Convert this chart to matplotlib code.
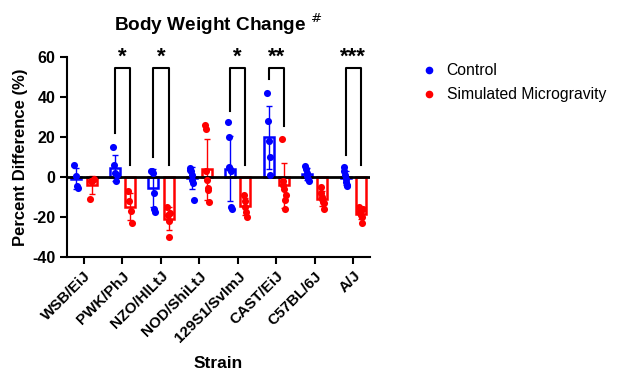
import numpy as np
import matplotlib
matplotlib.use("Agg")
import matplotlib.pyplot as plt
from matplotlib.lines import Line2D

plt.rcParams["font.family"] = ["Liberation Sans", "DejaVu Sans"]
plt.rcParams["axes.unicode_minus"] = False

strains = ["WSB/EiJ", "PWK/PhJ", "NZO/HlLtJ", "NOD/ShiLtJ", "129S1/SvImJ", "CAST/EiJ", "C57BL/6J", "A/J"]

control = [
    [6, 0.5, -4.5, -5.5],
    [15, 6, 2, -2, 1],
    [3, 3, 2, -8, -16, -17.5],
    [4.5, 3.5, 3, 1, -1.5, -3, -11.5],
    [27.5, 20, 5, 4, 3, -15, -16],
    [42, 28, 18, 10, 1],
    [5.5, 4, 2, 0.5, -1, -2],
    [5, 3, 1, -1, -2.5, -4.5, -4],
]
microgravity = [
    [-11, -2, -2, -1],
    [-7, -12, -17, -23],
    [-15, -19, -22, -30, -18],
    [26, 24, 3, -1.5, -5.5, -6.5, -12.5],
    [-9, -12, -15, -17.5, -20],
    [19, -2, -4, -6, -11.5, -16, -9],
    [-5, -8, -10, -11, -12.5, -13, -16],
    [-15, -17, -18, -19, -20, -23, -16],
]
sig_labels = ["", "*", "*", "", "*", "**", "", "***"]
bracket_left = [None, 22, 10, None, 33, 49, None, 11]
bracket_right = [None, 6, 6, None, 6, 25.5, None, 6]
bracket_top = 54.5

BLUE = "#0000ff"
RED = "#ff0000"

fig = plt.figure(figsize=(6.2, 3.72), dpi=100)
ax = fig.add_axes([0.108, 0.309, 0.489, 0.538])

off = 0.2
w = 0.26
x = np.arange(len(strains))

for i in range(len(strains)):
    for vals, dx, col in ((control[i], -off, BLUE), (microgravity[i], off, RED)):
        v = np.array(vals, dtype=float)
        m = v.mean()
        sd = v.std(ddof=1)
        xc = x[i] + dx
        ax.bar(xc, m, width=w, facecolor="white", edgecolor=col, linewidth=1.8, zorder=2)
        ax.errorbar(xc, m, yerr=sd, color=col, capsize=2.5, elinewidth=1, capthick=1, zorder=3)
        n = len(v)
        jit = np.linspace(-0.05, 0.05, n) if n > 1 else np.zeros(1)
        ax.scatter(xc + jit, v, s=26, color=col, zorder=4, linewidths=0)
    if sig_labels[i]:
        xl = x[i] - off
        xr = x[i] + off
        ax.plot([xl, xl, xr, xr], [bracket_left[i], bracket_top, bracket_top, bracket_right[i]],
                color="black", lw=1.5, zorder=5, clip_on=False)
        ax.text(x[i], bracket_top + 0.3, sig_labels[i], ha="center", va="bottom",
                fontsize=16, fontweight="bold", clip_on=False)

ax.axhline(0, color="black", lw=2, zorder=3)
ax.set_xlim(-0.44, len(strains) - 1 + 0.44)
ax.set_ylim(-40, 60)
ax.set_yticks([-40, -20, 0, 20, 40, 60])
ax.set_xticks(x)
ax.set_xticklabels(strains, rotation=45, ha="right", rotation_mode="anchor",
                   fontsize=11, fontweight="bold")
for lab in ax.get_yticklabels():
    lab.set_fontweight("bold")
    lab.set_fontsize(11.5)
ax.spines["top"].set_visible(False)
ax.spines["right"].set_visible(False)
ax.spines["left"].set_linewidth(1.5)
ax.spines["bottom"].set_linewidth(1.5)
ax.tick_params(axis="both", width=1.5, length=5)
ax.set_ylabel("Percent Difference (%)", fontsize=12, fontweight="bold", labelpad=3)
ax.set_xlabel("Strain", fontsize=12.5, fontweight="bold", labelpad=8)
ax.set_title(r"Body Weight Change $^{\#}$", fontsize=13.7, fontweight="bold", pad=19)

handles = [Line2D([], [], marker="o", ls="", color=BLUE, markersize=4.5),
           Line2D([], [], marker="o", ls="", color=RED, markersize=4.5)]
fig.legend(handles, ["Control", "Simulated Microgravity"], loc="upper left",
           bbox_to_anchor=(0.662, 0.86), frameon=False, fontsize=11.3,
           handletextpad=0.6, labelspacing=0.6, handlelength=1.0, borderpad=0.2)

fig.savefig("out.png", dpi=100)
